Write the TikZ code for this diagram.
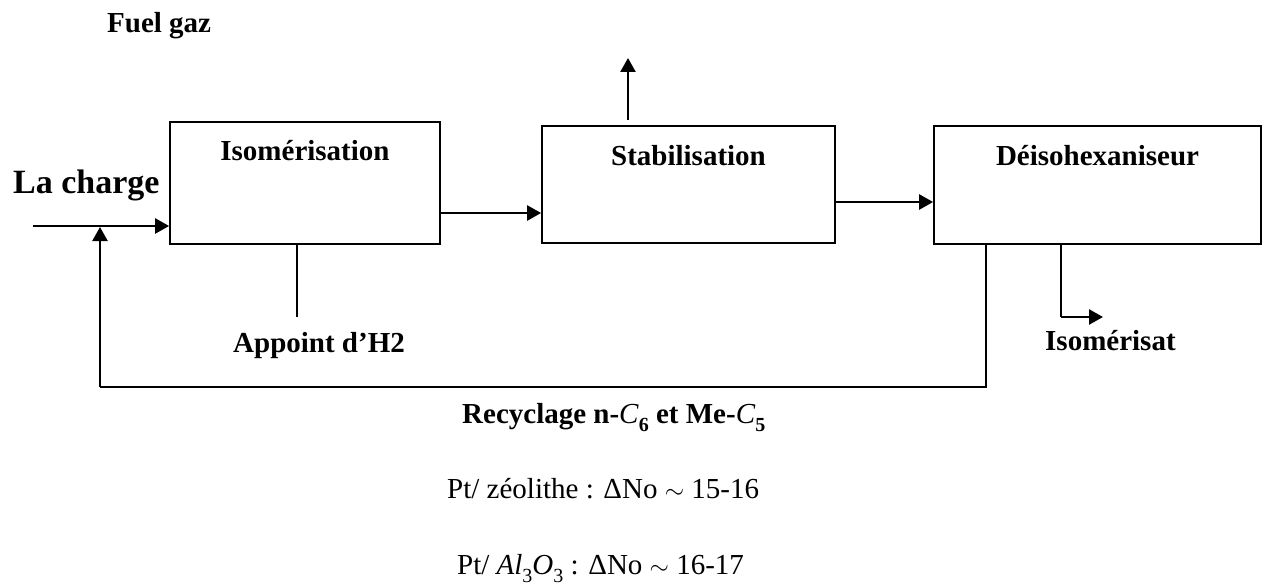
\documentclass[tikz,border=0pt]{standalone}
\usepackage{fontspec}
\setmainfont{Liberation Serif}
\usetikzlibrary{arrows.meta}
\newcommand{\mysub}[1]{\raisebox{-0.28em}{\fontsize{20}{20}\selectfont #1}}
\begin{document}
\begin{tikzpicture}[x=1pt,y=-1pt,
  box/.style={draw, line width=1.8pt, inner sep=0pt},
  lbl/.style={font=\bfseries\fontsize{29}{34}\selectfont, inner sep=0pt},
  txt/.style={font=\fontsize{29}{34}\selectfont, inner sep=0pt},
  arr/.style={line width=2.5pt, -{Triangle[length=14pt,width=15pt]}},
  thin/.style={line width=1.6pt},
  rec/.style={line width=2pt}
]
\useasboundingbox (0,0) rectangle (1263,586);

% boxes
\node[box, minimum width=270pt, minimum height=122pt] (iso) at (305,183) {};
\node[box, minimum width=293pt, minimum height=117pt] (stab) at (688.5,184.5) {};
\node[box, minimum width=327pt, minimum height=118pt] (deiso) at (1097.5,185) {};

% box labels
\node[lbl, anchor=base] (tiso) at (305,160) {Isomérisation};
\node[lbl, anchor=base] (tstab) at (688.5,165) {Stabilisation};
\node[lbl, anchor=base] (tdeiso) at (1097.5,165) {Déisohexaniseur};

% free labels
\node[lbl, anchor=base west] (fuel) at (107,33) {Fuel gaz};
\node[lbl, anchor=base west, font=\bfseries\fontsize{34}{40}\selectfont] (charge) at (13,193) {La charge};
\node[lbl, anchor=base west] (appoint) at (233,352) {Appoint d’H2};
\node[lbl, anchor=base west] (isomerisat) at (1045,350) {Isomérisat};
\node[lbl, anchor=base west] (recyc) at (462,423) {Recyclage n-\textit{\mdseries C}\mysub{6} et Me-\textit{\mdseries C}\mysub{5}};
\node[txt, anchor=base west] (zeo) at (447,498) {Pt/ zéolithe : ΔNo $\sim$ 15-16};
\node[txt, anchor=base west] (alu) at (457,574) {Pt/ \textit{Al}\mysub{3}\textit{O}\mysub{3} : ΔNo $\sim$ 16-17};

% coordinates
\coordinate (in) at (33,226);
\coordinate (recb) at (100,387);
\coordinate (append) at (297,317);
\coordinate (isoend) at (1061,317);
\coordinate (isotip) at (1103,317);
\coordinate (fueltip) at (628,58);

% connectors
\draw[arr] (in) -- (in -| iso.west);
\draw[arr] ([yshift=-30pt]iso.east) -- ([yshift=-30pt]iso.east -| stab.west);
\draw[arr] ([yshift=-17.5pt]stab.east) -- ([yshift=-17.5pt]stab.east -| deiso.west);
\draw[arr] (fueltip |- 0,120) -- (fueltip);
\draw[thin] (append |- iso.south) -- (append);
\draw[rec] ([xshift=-111.5pt]deiso.south) |- (recb);
\draw[arr, line width=2.2pt] (recb) -- ([yshift=-1pt]recb |- in);
\draw[line width=2pt] ([xshift=-36.5pt]deiso.south) |- (isoend);
\draw[arr] (isoend) -- (isotip);
\end{tikzpicture}
\end{document}
